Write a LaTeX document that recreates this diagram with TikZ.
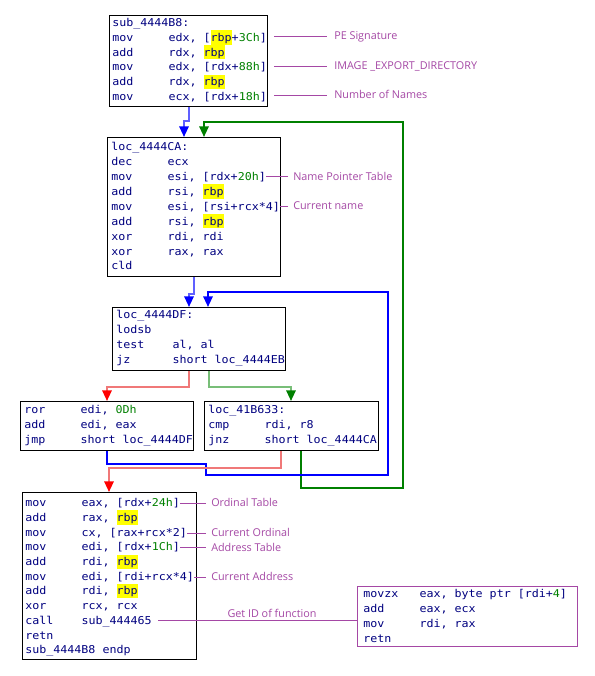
\documentclass[tikz,border=0pt]{standalone}
\usepackage{fontspec}
\usetikzlibrary{arrows.meta,calc}
\newfontfamily\codefam{DejaVu Sans Mono}[FakeStretch=1.08]
\newfontfamily\annfam{Open Sans}
\newcommand\codefont{\codefam\fontsize{8.1}{10}\selectfont}
\newcommand\annfont{\annfam\fontsize{8.1}{10}\selectfont}
\definecolor{navy}{RGB}{0,0,128}
\definecolor{numgreen}{RGB}{0,128,0}
\definecolor{annpurple}{RGB}{165,72,165}
\definecolor{lblue}{RGB}{96,96,255}
\definecolor{fblue}{RGB}{0,0,255}
\definecolor{dgreen}{RGB}{0,128,0}
\definecolor{lred}{RGB}{240,120,120}
\definecolor{fred}{RGB}{255,0,0}
\definecolor{lgreen}{RGB}{120,190,120}
\definecolor{hlyellow}{RGB}{255,255,0}
\newcommand\mn[1]{\makebox[42.2pt][l]{#1}}
\newcommand\hl[1]{{\setlength{\fboxsep}{0pt}\colorbox{hlyellow}{\rule[-2.4pt]{0pt}{10.6pt}#1}}}
\newcommand\nm[1]{\textcolor{numgreen}{#1}}
\tikzset{
  box/.style={draw=black, line width=1pt, anchor=north west, inner sep=0pt, fill=white},
  code/.style={anchor=base west, inner sep=0pt, font=\codefont, text=navy, text height=6.5pt, text depth=1.5pt},
  ann/.style={draw=annpurple, line width=0.75pt},
  annt/.style={anchor=west, inner sep=0pt, font=\annfont, text=annpurple, text height=7pt, text depth=2pt},
  flow/.style={line width=1.5pt},
}
\begin{document}
\begin{tikzpicture}[x=0.75pt,y=-0.75pt]
\useasboundingbox[fill=white] (0,0) rectangle (595,676);
% boxes
\node[box, minimum width=118.5pt, minimum height=68.25pt] (b1) at (109,15) {};
\node[box, minimum width=129.75pt, minimum height=104.25pt] (b2) at (107,137) {};
\node[box, minimum width=129.75pt, minimum height=47.25pt] (b3) at (112,307) {};
\node[box, minimum width=129.75pt, minimum height=36.75pt] (b4) at (20,401) {};
\node[box, minimum width=130.5pt, minimum height=36.75pt] (b5) at (204,401) {};
\node[box, minimum width=130.5pt, minimum height=125.25pt] (b6) at (22,492) {};
\node[box, draw=annpurple, minimum width=165pt, minimum height=45pt] (b7) at (357,586) {};
% box 1
\node[code] (b1l0) at (112,26.7) {sub\_4444B8:};
\node[code] (b1l1) at (112,41.4) {\mn{mov}edx, [\hl{rbp}+\nm{3Ch}]};
\node[code] (b1l2) at (112,56.1) {\mn{add}rdx, \hl{rbp}};
\node[code] (b1l3) at (112,70.8) {\mn{mov}edx, [rdx+\nm{88h}]};
\node[code] (b1l4) at (112,85.5) {\mn{add}rdx, \hl{rbp}};
\node[code] (b1l5) at (112,100.2) {\mn{mov}ecx, [rdx+\nm{18h}]};
% box 2
\node[code] (b2l0) at (111,150.7) {loc\_4444CA:};
\node[code] (b2l1) at (111,165.6) {\mn{dec}ecx};
\node[code] (b2l2) at (111,180.5) {\mn{mov}esi, [rdx+\nm{20h}]};
\node[code] (b2l3) at (111,195.4) {\mn{add}rsi, \hl{rbp}};
\node[code] (b2l4) at (111,210.3) {\mn{mov}esi, [rsi+rcx*4]};
\node[code] (b2l5) at (111,225.2) {\mn{add}rsi, \hl{rbp}};
\node[code] (b2l6) at (111,240.1) {\mn{xor}rdi, rdi};
\node[code] (b2l7) at (111,255.0) {\mn{xor}rax, rax};
\node[code] (b2l8) at (111,269.9) {\mn{cld}};
% box 3
\node[code] (b3l0) at (116,318.3) {loc\_4444DF:};
\node[code] (b3l1) at (116,333.5) {\mn{lodsb}};
\node[code] (b3l2) at (116,348.7) {\mn{test}al, al};
\node[code] (b3l3) at (116,363.9) {\mn{jz}short loc\_4444EB};
% box 4
\node[code] (b4l0) at (24,413.3) {\mn{ror}edi, \nm{0Dh}};
\node[code] (b4l1) at (24,428.3) {\mn{add}edi, eax};
\node[code] (b4l2) at (24,443.3) {\mn{jmp}short loc\_4444DF};
% box 5
\node[code] (b5l0) at (208,413.3) {loc\_41B633:};
\node[code] (b5l1) at (208,428.3) {\mn{cmp}rdi, r8};
\node[code] (b5l2) at (208,443.3) {\mn{jnz}short loc\_4444CA};
% box 6
\node[code] (b6l0) at (25,506.7) {\mn{mov}eax, [rdx+\nm{24h}]};
\node[code] (b6l1) at (25,521.4) {\mn{add}rax, \hl{rbp}};
\node[code] (b6l2) at (25,536.1) {\mn{mov}cx, [rax+rcx*2]};
\node[code] (b6l3) at (25,550.8) {\mn{mov}edi, [rdx+\nm{1Ch}]};
\node[code] (b6l4) at (25,565.5) {\mn{add}rdi, \hl{rbp}};
\node[code] (b6l5) at (25,580.2) {\mn{mov}edi, [rdi+rcx*4]};
\node[code] (b6l6) at (25,594.9) {\mn{add}rdi, \hl{rbp}};
\node[code] (b6l7) at (25,609.6) {\mn{xor}rcx, rcx};
\node[code] (b6l8) at (25,624.3) {\mn{call}sub\_444465};
\node[code] (b6l9) at (25,639.0) {\mn{retn}};
\node[code] (b6l10) at (25,653.7) {sub\_4444B8 endp};
% box 7
\node[code] (b7l0) at (363,597.3) {\mn{movzx}eax, byte ptr [rdi+\nm{4}]};
\node[code] (b7l1) at (363,612.4) {\mn{add}eax, ecx};
\node[code] (b7l2) at (363,627.5) {\mn{mov}rdi, rax};
\node[code] (b7l3) at (363,642.6) {\mn{retn}};
% annotations
\node[annt] (a1) at (334,36.5) {PE Signature};
\node[annt] (a2) at (334,66) {IMAGE \_EXPORT\_DIRECTORY};
\node[annt] (a3) at (334,95.5) {Number of Names};
\node[annt] (a4) at (293,176.7) {Name Pointer Table};
\node[annt] (a5) at (293,206) {Current name};
\node[annt] (a6) at (211,503.3) {Ordinal Table};
\node[annt] (a7) at (211,533) {Current Ordinal};
\node[annt] (a8) at (211,547.7) {Address Table};
\node[annt] (a9) at (211,577) {Current Address};
\node[annt, anchor=base] (a10) at (272,617.7) {Get ID of function};
\draw[ann, shorten <=4.5pt, shorten >=5.25pt] (b1.east |- a1.west) -- (a1.west);
\draw[ann, shorten <=4.5pt, shorten >=5.25pt] (b1.east |- a2.west) -- (a2.west);
\draw[ann, shorten <=4.5pt, shorten >=5.25pt] (b1.east |- a3.west) -- (a3.west);
\draw[ann, shorten >=3.75pt] (b2l2.east |- a4.west) -- (a4.west);
\draw[ann, shorten >=3.75pt] (b2l4.east |- a5.west) -- (a5.west);
\draw[ann, shorten >=3.75pt] (b6l0.east |- a6.west) -- (a6.west);
\draw[ann, shorten >=3.75pt] (b6l2.east |- a7.west) -- (a7.west);
\draw[ann, shorten >=3.75pt] (b6l3.east |- a8.west) -- (a8.west);
\draw[ann, shorten >=3.75pt] (b6l5.east |- a9.west) -- (a9.west);
\draw[ann, shorten <=4.5pt] (b6l8.east) -- (b6l8.east -| b7.west);
% flow arrows
\draw[flow, lgreen, -{Triangle[width=7pt,length=8pt,color=dgreen]}] ($(b3.south west)+(97,0)$) -- ++(0,16) -| ($(b5.north west)+(87,0)$);
\draw[flow, dgreen, -{Triangle[width=7pt,length=8pt]}] ($(b5.south west)+(97,0)$) -- ++(0,37) -- ++(102,0) |- ($(b2.north west)+(97,-15)$) -- ($(b2.north west)+(97,0)$);
\draw[flow, fblue, -{Triangle[width=7pt,length=8pt]}] ($(b4.south west)+(87,0)$) -- ++(0,13) -- ++(99,0) -- ++(0,11) -- ++(182,0) |- ($(b3.north west)+(96,-15)$) -- ($(b3.north west)+(96,0)$);
\draw[flow, lred, -{Triangle[width=7pt,length=8pt,color=fred]}] ($(b3.south west)+(77,0)$) -- ++(0,16) -| ($(b4.north west)+(87,0)$);
\draw[flow, lred, -{Triangle[width=7pt,length=8pt,color=fred]}] ($(b5.south west)+(77,0)$) -- ++(0,17) -| ($(b6.north west)+(87,0)$);
\draw[flow, lblue, -{Triangle[width=7pt,length=8pt,color=fblue]}] ($(b1.south west)+(80,0)$) -- ++(0,14) -| ($(b2.north west)+(77,0)$);
\draw[flow, lblue, -{Triangle[width=7pt,length=8pt,color=fblue]}] ($(b2.south west)+(87,0)$) -- ++(0,17) -| ($(b3.north west)+(77,0)$);
\end{tikzpicture}
\end{document}
